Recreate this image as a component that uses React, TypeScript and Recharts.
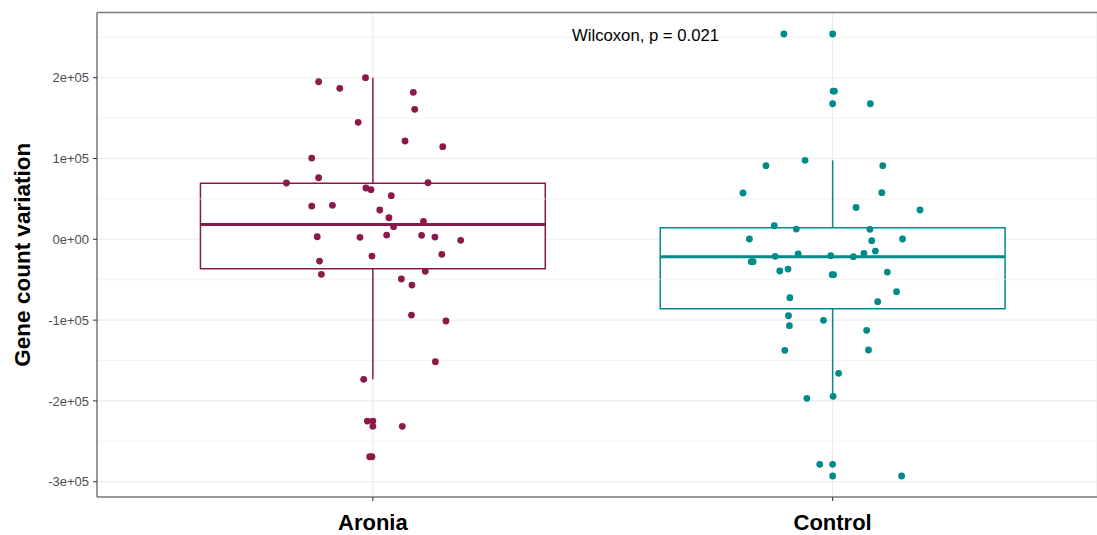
import {
  ScatterChart,
  Scatter,
  XAxis,
  YAxis,
  CartesianGrid,
  ReferenceArea,
  ReferenceLine,
  ReferenceDot,
  Label,
} from "recharts";

const categories = ["Aronia", "Control"];

// jittered positions (x) and values (y) per group
const aroniaX = [
  0.882, 0.928, 0.984, 1.088, 1.091, 0.968, 1.07, 1.152, 0.867, 0.882, 0.812,
  1.12, 0.985, 0.996, 1.04, 0.867, 0.912, 1.015, 1.035, 1.11, 1.045, 0.879,
  0.972, 1.03, 1.106, 1.135, 1.191, 0.884, 0.998, 1.15, 0.888, 1.114, 1.062,
  1.085, 1.084, 1.159, 1.136, 0.98, 0.988, 1.0, 1.0, 1.064, 0.993, 0.998,
];
const aroniaY = [
  195000, 186900, 200000, 181900, 160900, 144800, 121700, 114600, 100600,
  76200, 69700, 70000, 63500, 61400, 54000, 41200, 42100, 36300, 26700, 22300,
  15600, 3200, 2500, 5300, 5000, 2800, -1200, -26900, -20700, -18600, -43300,
  -39600, -49100, -56600, -93700, -101100, -151500, -173300, -224900, -224900,
  -231400, -231400, -269100, -269100,
];

const controlX = [
  1.894, 2.0, 2.001, 2.004, 2.0, 2.082, 1.855, 1.94, 2.109, 1.805, 2.107,
  2.051, 2.19, 1.873, 1.921, 2.081, 1.819, 2.085, 2.152, 2.093, 2.068, 2.045,
  1.996, 1.925, 1.875, 1.823, 1.827, 1.885, 1.903, 1.999, 2.002, 2.119, 2.139,
  1.907, 2.098, 1.904, 1.906, 1.98, 2.074, 1.896, 2.078, 2.013, 1.944, 2.001,
  1.972, 2.0, 2.0, 2.15,
];
const controlY = [
  254100, 254100, 183500, 183500, 167800, 167800, 91100, 97800, 91100, 57300,
  57700, 39400, 36300, 16800, 12700, 12400, 400, -1700, 400, -14500, -17300,
  -21500, -20300, -18200, -21000, -27700, -27700, -39200, -36800, -43800,
  -43800, -40500, -64900, -72300, -77200, -94600, -106900, -100200, -112600,
  -137400, -137000, -165800, -196800, -194300, -278500, -278500, -292900,
  -292900,
];

// box statistics, one entry per category
const boxQ1 = [-36400, -85900];
const boxMedian = [18400, -21500];
const boxQ3 = [69300, 14400];
const whiskerLow = [-173300, -194300];
const whiskerHigh = [200000, 97800];

const groupColors = ["#8B1A4B", "#008B8B"];

const yTicks = [-300000, -200000, -100000, 0, 100000, 200000];
const yTickLabels = ["-3e+05", "-2e+05", "-1e+05", "0e+00", "1e+05", "2e+05"];
const yMinorTicks = [-250000, -150000, -50000, 50000, 150000, 250000];

const Y_MIN = -318900;
const Y_MAX = 280700;
const X_MIN = 0.4;
const X_MAX = 2.575;
const BOX_HALF = 0.375;

const aroniaData = aroniaX.map((x, i) => ({ x, y: aroniaY[i] }));
const controlData = controlX.map((x, i) => ({ x, y: controlY[i] }));

const dot = (color: string) => (props: any) =>
  <circle cx={props.cx} cy={props.cy} r={3.4} fill={color} />;

const YTitle = (props: any) => {
  const { viewBox } = props;
  const cx = viewBox.x + 22.5;
  const cy = viewBox.y + viewBox.height / 2;
  return (
    <text
      x={cx}
      y={cy}
      transform={`rotate(-90 ${cx} ${cy})`}
      textAnchor="middle"
      dominantBaseline="central"
      fontSize={22.5}
      fontWeight="bold"
      fill="#000"
    >
      Gene count variation
    </text>
  );
};

export default function App() {
  return (
    <div
      style={{
        position: "absolute",
        left: 0,
        top: 0,
        width: 1097,
        height: 535,
        background: "#fff",
        fontFamily: "'Liberation Sans', Arial, sans-serif",
      }}
    >
      <ScatterChart
        width={1097}
        height={535}
        margin={{ top: 12.5, right: 0, bottom: 0, left: 0 }}
      >
        <CartesianGrid stroke="#ebebeb" strokeWidth={1.1} />
        {yMinorTicks.map((v) => (
          <ReferenceLine key={v} y={v} stroke="#eeeeee" strokeWidth={0.7} />
        ))}
        <XAxis
          type="number"
          dataKey="x"
          domain={[X_MIN, X_MAX]}
          allowDataOverflow
          ticks={[1, 2]}
          interval={0}
          tickFormatter={(v: number) => categories[v - 1]}
          tick={{ fill: "#000", fontSize: 22, fontWeight: "bold" }}
          tickLine={{ stroke: "#333" }}
          tickSize={4}
          tickMargin={13}
          axisLine={{ stroke: "#7a7a7a", strokeWidth: 1.5 }}
          height={38}
        />
        <YAxis
          type="number"
          dataKey="y"
          domain={[Y_MIN, Y_MAX]}
          allowDataOverflow
          ticks={yTicks}
          interval={0}
          tickFormatter={(v: number) => yTickLabels[yTicks.indexOf(v)]}
          tick={{ fill: "#4d4d4d", fontSize: 13 }}
          tickLine={{ stroke: "#333" }}
          tickSize={4}
          tickMargin={4}
          axisLine={{ stroke: "#7a7a7a", strokeWidth: 1.5 }}
          width={97}
        >
          <Label content={YTitle} />
        </YAxis>
        <ReferenceLine y={Y_MAX} stroke="#7a7a7a" strokeWidth={1.5} />
        {categories.map((c, i) => (
          <ReferenceLine
            key={c + "-whi"}
            segment={[
              { x: i + 1, y: boxQ3[i] },
              { x: i + 1, y: whiskerHigh[i] },
            ]}
            stroke={groupColors[i]}
            strokeWidth={1.5}
          />
        ))}
        {categories.map((c, i) => (
          <ReferenceLine
            key={c + "-wlo"}
            segment={[
              { x: i + 1, y: boxQ1[i] },
              { x: i + 1, y: whiskerLow[i] },
            ]}
            stroke={groupColors[i]}
            strokeWidth={1.5}
          />
        ))}
        {categories.map((c, i) => (
          <ReferenceArea
            key={c + "-box"}
            x1={i + 1 - BOX_HALF}
            x2={i + 1 + BOX_HALF}
            y1={boxQ1[i]}
            y2={boxQ3[i]}
            fill="#fff"
            fillOpacity={1}
            stroke={groupColors[i]}
            strokeWidth={1.5}
          />
        ))}
        {categories.map((c, i) => (
          <ReferenceLine
            key={c + "-med"}
            segment={[
              { x: i + 1 - BOX_HALF, y: boxMedian[i] },
              { x: i + 1 + BOX_HALF, y: boxMedian[i] },
            ]}
            stroke={groupColors[i]}
            strokeWidth={3}
          />
        ))}
        <ReferenceDot
          x={1.593}
          y={252800}
          r={0}
          fill="none"
          stroke="none"
          label={{
            value: "Wilcoxon, p = 0.021",
            position: "center",
            fontSize: 16.7,
            fill: "#000",
          }}
        />
        <Scatter
          name={categories[0]}
          data={aroniaData}
          shape={dot(groupColors[0])}
          isAnimationActive={false}
        />
        <Scatter
          name={categories[1]}
          data={controlData}
          shape={dot(groupColors[1])}
          isAnimationActive={false}
        />
      </ScatterChart>
    </div>
  );
}
